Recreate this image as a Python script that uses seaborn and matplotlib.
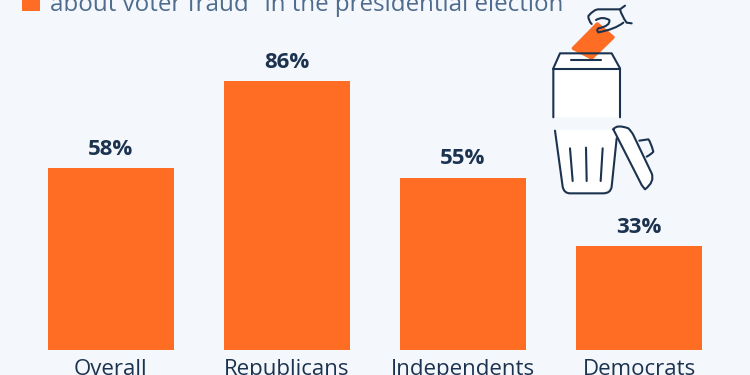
#Import necessary libraries
import pandas as pd
import matplotlib.pyplot as plt
import seaborn as sns
from matplotlib.patches import PathPatch, Polygon, Rectangle
from matplotlib.path import Path
from matplotlib.transforms import Affine2D

#Chart values
groups = ["Overall", "Republicans", "Independents", "Democrats"]
shares = [58, 86, 55, 33]
legend_text = "about voter fraud\" in the presidential election"

#Colours
bg = "#f4f7fb"
orange = "#ff6d24"
navy = "#1c3350"
slate = "#4f6c8e"

sns.set_theme(style="white")
plt.rcParams['font.family'] = ['Open Sans', 'DejaVu Sans']

df = pd.DataFrame({"group": groups, "share": shares})

fig = plt.figure(figsize=(7.5, 3.75), dpi=100, facecolor=bg)
ax = fig.add_axes([0, 25.5 / 375, 1, 349.5 / 375], facecolor="none")
sns.barplot(data=df, x="group", y="share", color=orange, saturation=1, width=0.72, linewidth=0, ax=ax)
ax.set_xlim(-0.63, 3.63)
ax.set_ylim(0, 111.95)
ax.set_xlabel("")
ax.set_ylabel("")
ax.set_yticks([])
ax.tick_params(axis="x", length=0, pad=7, labelsize=16, labelcolor=navy)
sns.despine(ax=ax, left=True, bottom=True, top=True, right=True)

#Value labels on top of the bars
for c in ax.containers:
    ax.bar_label(c, fmt="%d%%", padding=6, fontsize=16, fontweight="bold", color=navy)

#Legend line, cut by the top of the image
fig.patches.append(Rectangle((22 / 750, 1 - 11 / 375), 18 / 750, 14 / 375,
                             transform=fig.transFigure, facecolor=orange, edgecolor="none"))
fig.text(50 / 750, 1 - 11 / 375, legend_text, fontsize=17.4, color=slate, va="baseline", ha="left")

#Ballot box and bin icon, drawn in zoomed crop coordinates (3x, offset 520,0)
icon_tr = Affine2D().scale(1 / 3).translate(520, 0).scale(1, -1).translate(0, 375)

C = Path.CURVE3
L = Path.LINETO
M = Path.MOVETO


def stroke(points, fill="none", codes=None, lw=1.5, color=navy, z=5):
    path = Path(points, codes) if codes else Path(points)
    fig.add_artist(PathPatch(path, transform=icon_tr, facecolor=fill, edgecolor=color, lw=lw,
                             capstyle="round", joinstyle="round", zorder=z))


#Box
fig.add_artist(Polygon([(120, 160), (275, 160), (300, 205), (300, 352), (100, 352), (100, 205)],
                       transform=icon_tr, facecolor="white", edgecolor="none", zorder=3))
stroke([(100, 352), (100, 205), (120, 160), (275, 160), (300, 205), (300, 352)])
stroke([(100, 207), (300, 207)])

#Card, then slot over it
fig.add_artist(Polygon([(232, 72), (279, 112), (215, 174), (160, 145)], transform=icon_tr,
                       facecolor=orange, edgecolor=orange, lw=2.5, joinstyle="round", zorder=4))
stroke([(152, 180), (243, 180)], z=6)

#Hand
stroke([(315, 17), (300, 28), (235, 28), (222, 28), (205, 48), (205, 62), (215, 72)],
       codes=[M, L, L, C, C, C, C])
stroke([(300, 28), (305, 48), (320, 68), (335, 70)], codes=[M, C, C, L])
stroke([(228, 60), (248, 48), (268, 60), (272, 78), (235, 85), (228, 90), (235, 97), (285, 88), (310, 68)],
       codes=[M, C, C, C, C, C, C, C, C])

#Bin
fig.add_artist(Polygon([(105, 390), (295, 390), (270, 560), (245, 580), (145, 580), (128, 560)],
                       transform=icon_tr, facecolor="white", edgecolor="none", zorder=3))
stroke([(105, 392), (128, 560), (132, 580), (150, 580), (250, 580), (272, 580), (275, 560), (290, 415)],
       codes=[M, L, C, C, L, C, C, L])
stroke([(150, 445), (158, 543)])
stroke([(198, 443), (200, 543)])
stroke([(248, 445), (242, 543)])

#Lid and handle
stroke([(280, 388), (290, 372), (325, 385), (335, 395), (340, 405), (395, 520), (405, 545), (375, 568),
        (365, 555), (280, 388)],
       fill="white", codes=[M, C, C, C, C, L, C, C, L, L])
stroke([(358, 422), (385, 418), (392, 425), (400, 455), (395, 462), (380, 470)],
       codes=[M, L, C, C, C, C])

fig.savefig("out.png", dpi=100, facecolor=bg)
